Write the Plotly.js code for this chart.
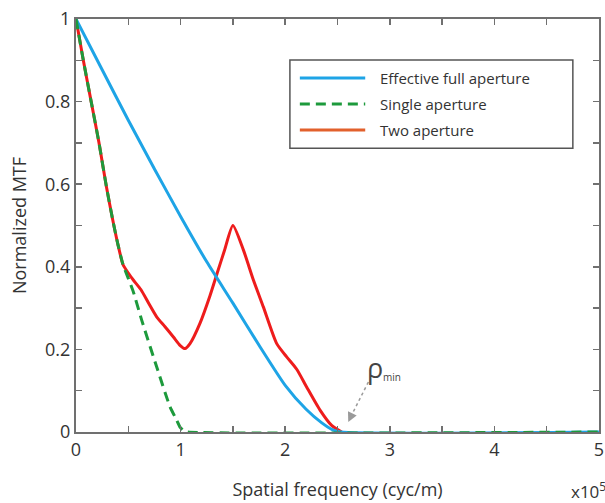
<!DOCTYPE html>
<html>
<head>
<meta charset="utf-8">
<script src="https://cdn.plot.ly/plotly-3.0.1.min.js"></script>
<style>html,body{margin:0;padding:0;background:#fff;}#chart{width:605px;height:503px;}</style>
</head>
<body>
<div id="chart"></div>
<script>
// Series names
const seriesNames = ["Effective full aperture", "Single aperture", "Two aperture"];

// Effective full aperture (blue)
const fullX = [0, 0.25, 0.5, 0.75, 1.0, 1.25, 1.5, 1.75, 2.0, 2.2, 2.35, 2.45, 2.53, 5];
const fullY = [1, 0.877, 0.755, 0.637, 0.522, 0.412, 0.312, 0.21, 0.113, 0.055, 0.022, 0.006, 0, 0];

// Single aperture (green dashed)
const singleX = [0, 0.07, 0.145, 0.22, 0.29, 0.35, 0.40, 0.45, 0.5, 0.55, 0.628, 0.771, 0.899, 0.96, 0.994, 1.03, 1.07, 5];
const singleY = [1, 0.90, 0.80, 0.70, 0.595, 0.515, 0.455, 0.405, 0.372, 0.338, 0.271, 0.158, 0.061, 0.03, 0.012, 0.003, 0, 0];

// Two aperture (red)
const twoX = [0, 0.07, 0.145, 0.22, 0.29, 0.35, 0.40, 0.45, 0.5, 0.548, 0.62, 0.692, 0.771, 0.851, 0.931, 0.994, 1.042, 1.09, 1.185, 1.281, 1.35, 1.42, 1.50, 1.600, 1.696, 1.791, 1.919, 2.014, 2.11, 2.205, 2.333, 2.444, 2.54];
const twoY = [1, 0.90, 0.80, 0.70, 0.595, 0.515, 0.455, 0.405, 0.385, 0.368, 0.345, 0.313, 0.279, 0.255, 0.230, 0.210, 0.202, 0.214, 0.263, 0.33, 0.385, 0.44, 0.5, 0.441, 0.368, 0.303, 0.214, 0.182, 0.152, 0.109, 0.053, 0.016, 0];

// Ticks
const xTickVals = [0, 0.5, 1, 1.5, 2, 2.5, 3, 3.5, 4, 4.5, 5];
const xTickText = ["0", "", "1", "", "2", "", "3", "", "4", "", "5"];
const yTickVals = [0, 0.1, 0.2, 0.3, 0.4, 0.5, 0.6, 0.7, 0.8, 0.9, 1];
const yTickText = ["0", "", "0.2", "", "0.4", "", "0.6", "", "0.8", "", "1"];

const colors = {full: "#1ea4e6", single: "#1d9a3c", two: "#ee1c1c", twoLegend: "#e2602c"};
const FONT = "Open Sans, Noto Sans, sans-serif";
const textColor = "#333333";

const traces = [
  {x: twoX, y: twoY, name: seriesNames[2], mode: "lines", line: {color: colors.two, width: 3, shape: "spline", smoothing: 0.6}, showlegend: false},
  {x: fullX, y: fullY, name: seriesNames[0], mode: "lines", line: {color: colors.full, width: 3, shape: "spline", smoothing: 0.6}, showlegend: false},
  {x: singleX, y: singleY, name: seriesNames[1], mode: "lines", line: {color: colors.single, width: 3, dash: "10px,6px", shape: "spline", smoothing: 0.6}, showlegend: false}
];

// manual legend
const legRows = [0.857, 0.794, 0.731];
const legStyles = [
  {color: colors.full, width: 3, dash: "solid"},
  {color: colors.single, width: 3, dash: "10px,6px"},
  {color: colors.twoLegend, width: 3, dash: "solid"}
];
const shapes = [
  {type: "rect", xref: "paper", yref: "paper", x0: 0.409, x1: 0.950, y0: 0.687, y1: 0.901,
   line: {color: "#555", width: 1.5}, fillcolor: "#fff", layer: "above"}
];
const annotations = [];
seriesNames.forEach((n, i) => {
  shapes.push({type: "line", xref: "paper", yref: "paper", x0: 0.428, x1: 0.553, y0: legRows[i], y1: legRows[i],
    line: legStyles[i], layer: "above"});
  annotations.push({xref: "paper", yref: "paper", x: 0.578, y: legRows[i], xanchor: "left", yanchor: "middle",
    text: n, showarrow: false, font: {family: FONT, size: 15, color: textColor}});
});

// rho_min annotation with dotted arrow
shapes.push({type: "line", xref: "x", yref: "y", x0: 2.795, y0: 0.121, x1: 2.625, y1: 0.036,
  line: {color: "#9a9a9a", width: 1.5, dash: "dot"}});
annotations.push({xref: "x", yref: "y", x: 2.603, y: 0.024, axref: "x", ayref: "y", ax: 2.66, ay: 0.055,
  showarrow: true, arrowhead: 2, arrowsize: 1.6, arrowwidth: 1.2, arrowcolor: "#9a9a9a", text: " "});
annotations.push({xref: "x", yref: "y", x: 2.86, y: 0.156, text: "ρ", showarrow: false,
  font: {family: FONT, size: 27, color: "#444"}, xanchor: "center", yanchor: "middle"});
annotations.push({xref: "x", yref: "y", x: 3.02, y: 0.133, text: "min", showarrow: false,
  font: {family: FONT, size: 10, color: "#444"}, xanchor: "center", yanchor: "middle"});

// x10^5 multiplier
annotations.push({xref: "paper", yref: "paper", x: 0.942, y: -0.141, xanchor: "left", yanchor: "middle",
  text: "x10<sup>5</sup>", showarrow: false, font: {family: FONT, size: 17, color: textColor}});

const axisCommon = {
  showline: true, linecolor: "#707070", linewidth: 2, mirror: "ticks",
  ticks: "inside", ticklen: 6, tickwidth: 1.5, tickcolor: "#707070",
  showgrid: false, zeroline: false, tickmode: "array",
  tickfont: {family: FONT, size: 18, color: textColor}
};

const layout = {
  width: 605, height: 503,
  margin: {l: 76, r: 6, t: 19, b: 71},
  paper_bgcolor: "#fff", plot_bgcolor: "#fff",
  xaxis: Object.assign({}, axisCommon, {range: [0, 5], tickvals: xTickVals, ticktext: xTickText,
    title: {text: "Spatial frequency (cyc/m)", font: {family: FONT, size: 18, color: textColor}, standoff: 24}}),
  yaxis: Object.assign({}, axisCommon, {range: [0, 1], tickvals: yTickVals, ticktext: yTickText,
    title: {text: "Normalized MTF", font: {family: FONT, size: 18, color: textColor}, standoff: 14}}),
  shapes: shapes,
  annotations: annotations,
  showlegend: false
};

Plotly.newPlot("chart", traces, layout, {displayModeBar: false, staticPlot: true});
</script>
</body>
</html>
